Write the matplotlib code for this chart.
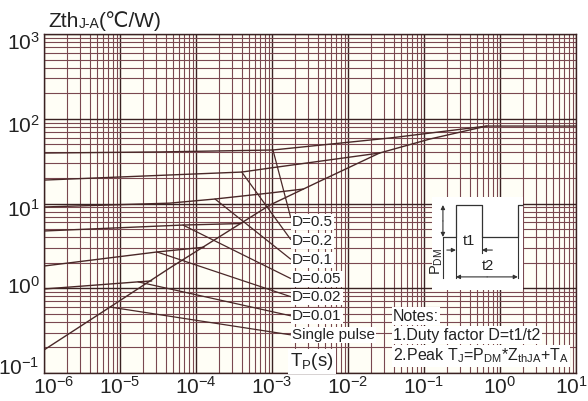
import numpy as np
import matplotlib
matplotlib.use("Agg")
import matplotlib.pyplot as plt
from matplotlib.ticker import LogLocator, FuncFormatter, NullFormatter
from matplotlib.transforms import ScaledTranslation

plt.rcParams['font.family'] = ['Liberation Sans', 'DejaVu Sans']

# Transient thermal impedance, pulse width in s, Zth(j-a) in C/W
single_t = [1e-6, 7.4e-6, 4.5e-5, 9.4e-4, 4.3e-3, 2.6e-2, 0.12, 0.67, 10]
single_z = [0.187, 0.60, 1.73, 9.6, 18.4, 39.4, 57.7, 82, 82]

d05_t = [1e-6, 3.4e-5, 1.03e-3, 3.57e-2, 0.67]
d05_z = [39.4, 40.6, 42.8, 59.3, 82]
d02_t = [1e-6, 4.0e-4, 9.4e-4, 2.6e-2]
d02_z = [18.9, 23.5, 26.2, 39.4]
d01_t = [1e-6, 4.5e-5, 1.78e-4, 9.4e-4, 2.56e-3]
d01_z = [9.1, 10.1, 11.3, 13.3, 14.8]
d005_t = [1e-6, 6.74e-5, 3.9e-4]
d005_z = [4.74, 5.57, 5.8]
d002_t = [1e-6, 3.07e-5, 1.27e-4]
d002_z = [1.83, 2.68, 3.05]
d001_t = [1e-6, 1.73e-5, 2.6e-5]
d001_z = [0.98, 1.19, 1.22]

# curve labels and the point on each curve their leader starts from
curve_labels = ['D=0.5', 'D=0.2', 'D=0.1', 'D=0.05', 'D=0.02', 'D=0.01', 'Single pulse']
leader_t = [1.03e-3, 4.0e-4, 1.78e-4, 6.74e-5, 3.07e-5, 1.73e-5, 7.4e-6]
leader_z = [42.8, 23.5, 11.3, 5.57, 2.68, 1.19, 0.60]
label_y = [0.445, 0.389, 0.333, 0.277, 0.224, 0.168, 0.112]

x_ticks = [1e-6, 1e-5, 1e-4, 1e-3, 1e-2, 1e-1, 1e0, 1e1]
y_ticks = [1e-1, 1e0, 1e1, 1e2, 1e3]
y_label_dy = [7, 3, -4, -5, -7]   # px, keeps the end labels off the corners

# pulse train sketch (t1 = 1 unit, height PDM = 1 unit)
pulse_x = [-0.45, 0, 0, 1, 1, 2.38, 2.38, 2.6]
pulse_y = [0, 0, 1, 1, 0, 0, 1, 1]

LINE = '#4a2828'
GRID_MAJOR = '#3a2222'
GRID_MINOR = '#7a4850'
TEXT = '#222222'


def sup_label(v, pos):
    return r'$\mathregular{10^{%d}}$' % int(round(np.log10(v)))


def shift(artist, dx_px, dy_px):
    artist.set_transform(artist.get_transform() +
                         ScaledTranslation(dx_px / 100, dy_px / 100, fig.dpi_scale_trans))


fig = plt.figure(figsize=(5.88, 4.01), dpi=100)
ax = fig.add_axes([0.0748, 0.0698, 0.9048, 0.8454])
ax.set_facecolor('#fffef6')
ax.set_xscale('log')
ax.set_yscale('log')
ax.set_xlim(1e-6, 1e1)
ax.set_ylim(1e-1, 1e3)

ax.set_xticks(x_ticks)
ax.set_yticks(y_ticks)
ax.xaxis.set_minor_locator(LogLocator(base=10, subs=np.arange(2, 10), numticks=100))
ax.yaxis.set_minor_locator(LogLocator(base=10, subs=np.arange(2, 10), numticks=100))
ax.xaxis.set_major_formatter(FuncFormatter(sup_label))
ax.yaxis.set_major_formatter(FuncFormatter(sup_label))
ax.xaxis.set_minor_formatter(NullFormatter())
ax.yaxis.set_minor_formatter(NullFormatter())
ax.tick_params(which='both', length=0, labelsize=15, colors=TEXT)
ax.tick_params(axis='x', pad=2)
ax.tick_params(axis='y', pad=3)

ax.set_axisbelow(True)
ax.grid(which='major', color=GRID_MAJOR, lw=1.0)
ax.grid(which='minor', color=GRID_MINOR, lw=0.8)
for sp in ax.spines.values():
    sp.set_color(GRID_MAJOR)
    sp.set_linewidth(1.0)

# curves
for t, z in [(single_t, single_z), (d05_t, d05_z), (d02_t, d02_z), (d01_t, d01_z),
             (d005_t, d005_z), (d002_t, d002_z), (d001_t, d001_z)]:
    ax.plot(t, z, color=LINE, lw=1.0, zorder=2.5)

# leaders and labels
for lab, lt, lz, ly in zip(curve_labels, leader_t, leader_z, label_y):
    ax.annotate(lab, xy=(lt, lz), xycoords='data', xytext=(0.466, ly),
                textcoords='axes fraction', ha='left', va='center',
                fontsize=11, color=TEXT,
                bbox=dict(boxstyle='square,pad=0.08', fc='white', ec='none'),
                arrowprops=dict(arrowstyle='-', color=LINE, lw=0.9,
                                relpos=(0, 0.5), shrinkA=0, shrinkB=0))

# notes
note_kw = dict(transform=ax.transAxes, ha='left', va='center', fontsize=11.5,
               color=TEXT, bbox=dict(boxstyle='square,pad=0.08', fc='white', ec='none'))
ax.text(0.656, 0.168, 'Notes:', **note_kw)
ax.text(0.656, 0.112, '1.Duty factor D=t1/t2', **note_kw)
ax.text(0.656, 0.050,
        r'2.Peak T$_\mathregular{J}$=P$_\mathregular{DM}$*Z$_\mathregular{thJA}$+T$_\mathregular{A}$',
        **note_kw)
ax.text(0.463, 0.033, r'T$_\mathregular{P}$(s)', transform=ax.transAxes, ha='left',
        va='center', fontsize=13.5, color=TEXT,
        bbox=dict(boxstyle='square,pad=0.1', fc='white', ec='none'))

# y axis title
t1 = fig.text(0.0816, 0.9327, 'Zth', fontsize=15, va='baseline', color=TEXT)
t2 = ax.annotate('J-A', xy=(1, 0), xycoords=t1, va='bottom', ha='left',
                 fontsize=10, color=TEXT)
ax.annotate('(\u2103/W)', xy=(1, 0), xycoords=t2, va='bottom', ha='left',
            fontsize=15, color=TEXT, annotation_clip=False)

# nudge tick labels away from the corners
for tk, dy in zip(ax.yaxis.get_major_ticks(), y_label_dy):
    shift(tk.label1, 0, dy)
xt = ax.xaxis.get_major_ticks()
shift(xt[0].label1, 10, 0)
shift(xt[-1].label1, -5, 0)

# pulse train inset
ins = fig.add_axes([0.7347, 0.2768, 0.1548, 0.2319])
ins.set_facecolor('white')
ins.set_xlim(-0.92, 2.58)
ins.set_ylim(-1.66, 1.25)
ins.set_xticks([])
ins.set_yticks([])
for sp in ins.spines.values():
    sp.set_visible(False)
dk = '#333333'
ins.plot(pulse_x, pulse_y, color=dk, lw=0.9)
for xe, ye in [(0, -1.3), (2.38, -1.3), (1, -0.5)]:
    ins.plot([xe, xe], [0, ye], color=dk, lw=0.8)
ins.plot([-0.5, -0.5], [0, -1.28], color=dk, lw=0.8)
arr = dict(arrowstyle='-|>', color=dk, lw=0.8, mutation_scale=6, shrinkA=0, shrinkB=0)
ins.annotate('', xy=(-0.5, 1), xytext=(-0.5, 0.5), arrowprops=arr)
ins.annotate('', xy=(-0.5, 0), xytext=(-0.5, 0.5), arrowprops=arr)
ins.annotate('', xy=(0, -0.41), xytext=(-0.35, -0.41), arrowprops=arr)
ins.annotate('', xy=(1, -0.41), xytext=(1.4, -0.41), arrowprops=arr)
ins.annotate('', xy=(0, -1.25), xytext=(1.2, -1.25), arrowprops=arr)
ins.annotate('', xy=(2.38, -1.25), xytext=(1.2, -1.25), arrowprops=arr)
ins.text(0.5, -0.12, 't1', ha='center', va='center', fontsize=10.5, color=TEXT)
ins.text(1.23, -0.9, 't2', ha='center', va='center', fontsize=10.5, color=TEXT)
ins.text(-0.73, -0.78, r'P$_\mathregular{DM}$', ha='center', va='center', rotation=90,
         fontsize=10.5, color=TEXT)

fig.savefig('out.png', dpi=100, facecolor='white')
plt.close(fig)
